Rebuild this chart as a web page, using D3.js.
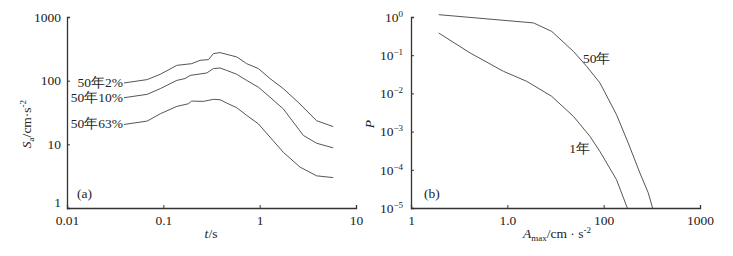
<!DOCTYPE html>
<html>
<head>
<meta charset="utf-8">
<script src="https://cdn.jsdelivr.net/npm/d3@7"></script>
<style>
  body { margin: 0; background: #fff; }
  .axis path, .axis line { stroke: #333; }
</style>
</head>
<body>
<div id="chart"></div>
<script>
// panel (a): response spectra
const tA = [0.039, 0.068, 0.093, 0.138, 0.197, 0.241, 0.294, 0.331, 0.388, 0.578, 0.733, 0.969, 1.28, 1.76, 2.62, 3.90, 5.80];
const sa2 = [92, 104, 126, 174, 185, 209, 214, 266, 276, 236, 185, 155, 108, 75, 43, 23.5, 19];
const tB = [0.039, 0.068, 0.093, 0.138, 0.168, 0.190, 0.282, 0.331, 0.388, 0.455, 0.578, 0.733, 0.969, 1.28, 1.76, 2.84, 3.90, 5.80];
const sa10 = [54, 61, 75, 101, 108, 121, 132, 155, 158, 145, 126, 101, 79, 55, 36, 13.8, 10.4, 8.8];
const tC = [0.039, 0.068, 0.093, 0.138, 0.182, 0.197, 0.261, 0.331, 0.388, 0.455, 0.578, 0.733, 0.969, 1.28, 1.76, 2.62, 3.90, 5.80];
const sa63 = [20.5, 23.2, 30.2, 39.4, 43.4, 47.8, 47.3, 50.9, 50.2, 44.5, 37.6, 28.5, 21.0, 13.0, 7.5, 4.4, 3.2, 3.0];
const seriesA = [
  { label: '50年2%', t: tA, v: sa2 },
  { label: '50年10%', t: tB, v: sa10 },
  { label: '50年63%', t: tC, v: sa63 }
];
const xTicksA = [0.01, 0.1, 1, 10];
const xTickLabelsA = ['0.01', '0.1', '1', '10'];
const yTicksA = [1, 10, 100, 1000];

// panel (b): exceedance probability
const amax50 = [1.94, 18.7, 28.9, 48.5, 66.6, 91.6, 136, 180, 238, 290, 322];
const p50 = [1.15, 0.70, 0.42, 0.126, 0.051, 0.0187, 0.00277, 5.0e-4, 8.2e-5, 2.5e-5, 1e-5];
const amax1 = [1.94, 4.12, 9.12, 15.9, 28.9, 48.5, 72.1, 91.6, 136, 176];
const p1 = [0.381, 0.114, 0.0378, 0.0207, 0.00838, 0.00251, 7.5e-4, 3.0e-4, 5.5e-5, 1e-5];
const seriesB = [
  { label: '50年', a: amax50, p: p50, at: [61, 0.063] },
  { label: '1年', a: amax1, p: p1, at: [44, 0.00028] }
];
const xTicksB = [1, 10, 100, 1000];
const xTickLabelsB = ['1', '1.0', '100', '1000'];
const yExpB = [0, -1, -2, -3, -4, -5];

const font = 'Liberation Serif';
const fs = 13.5;
const svg = d3.select('#chart').append('svg')
  .attr('width', 733)
  .attr('height', 256)
  .attr('font-family', font)
  .attr('font-size', fs);

const lineColor = '#555';
const textColor = '#222';

// ---------- panel (a)
const xa = d3.scaleLog().domain([0.01, 10]).range([67, 356]);
const ya = d3.scaleLog().domain([1, 1000]).range([208, 17]);

const axA = svg.append('g').attr('class', 'axis').attr('transform', 'translate(0,208)')
  .call(d3.axisBottom(xa).tickValues(xTicksA).tickFormat((d, i) => xTickLabelsA[i]).tickSize(-3).tickPadding(7));
const ayA = svg.append('g').attr('class', 'axis').attr('transform', 'translate(67,0)')
  .call(d3.axisLeft(ya).tickValues(yTicksA).tickFormat(d3.format('d')).tickSize(-3).tickPadding(6));
[axA, ayA].forEach(a => {
  a.attr('font-family', font).attr('font-size', fs);
  a.select('.domain').attr('stroke-width', 1.3);
  a.selectAll('text').attr('fill', textColor);
});
// bottom label "1" sits a little higher, clear of "0.01"
ayA.selectAll('.tick text').filter(d => d === 1).attr('dy', '-0.1em');

const lineA = d3.line().x(d => xa(d[0])).y(d => ya(d[1]));
seriesA.forEach(s => {
  const pts = s.t.map((t, i) => [t, s.v[i]]);
  svg.append('path')
    .attr('d', lineA(pts))
    .attr('fill', 'none')
    .attr('stroke', lineColor)
    .attr('stroke-width', 1);
  svg.append('text')
    .attr('x', xa(s.t[0]) - 1)
    .attr('y', ya(s.v[0]) + 4)
    .attr('text-anchor', 'end')
    .attr('fill', textColor)
    .text(s.label);
});

svg.append('text').attr('x', 77).attr('y', 198).attr('fill', textColor).text('(a)');
svg.append('text').attr('x', 211).attr('y', 238).attr('text-anchor', 'middle').attr('fill', textColor)
  .html('<tspan font-style="italic">t</tspan>/s');
svg.append('text')
  .attr('transform', 'translate(31,124) rotate(-90)')
  .attr('text-anchor', 'middle')
  .attr('fill', textColor)
  .html('<tspan font-style="italic">S</tspan><tspan font-size="9" dy="3">a</tspan><tspan dy="-3">/cm·s</tspan><tspan font-size="9" dy="-5">-2</tspan>');

// ---------- panel (b)
const xb = d3.scaleLog().domain([1, 1000]).range([411, 700]);
const yb = d3.scaleLog().domain([1e-5, 1]).range([208, 17]);

const axB = svg.append('g').attr('class', 'axis').attr('transform', 'translate(0,208)')
  .call(d3.axisBottom(xb).tickValues(xTicksB).tickFormat((d, i) => xTickLabelsB[i]).tickSize(-3).tickPadding(7));
const ayB = svg.append('g').attr('class', 'axis').attr('transform', 'translate(411,0)')
  .call(d3.axisLeft(yb).tickValues(yExpB.map(e => Math.pow(10, e))).tickFormat('').tickSize(-3));
[axB, ayB].forEach(a => {
  a.attr('font-family', font).attr('font-size', fs);
  a.select('.domain').attr('stroke-width', 1.3);
  a.selectAll('text').attr('fill', textColor);
});
ayB.selectAll('.tick').append('text')
  .attr('x', -8)
  .attr('dy', '0.32em')
  .attr('text-anchor', 'end')
  .attr('fill', textColor)
  .html((d, i) => `10<tspan font-size="9" dy="-5">${yExpB[i] === 0 ? '0' : '−' + (-yExpB[i])}</tspan>`);

const lineB = d3.line().x(d => xb(d[0])).y(d => yb(d[1]));
seriesB.forEach(s => {
  const pts = s.a.map((a, i) => [a, s.p[i]]);
  svg.append('path')
    .attr('d', lineB(pts))
    .attr('fill', 'none')
    .attr('stroke', lineColor)
    .attr('stroke-width', 1);
  svg.append('text')
    .attr('x', xb(s.at[0]))
    .attr('y', yb(s.at[1]))
    .attr('fill', textColor)
    .text(s.label);
});

svg.append('text').attr('x', 424).attr('y', 198).attr('fill', textColor).text('(b)');
svg.append('text').attr('x', 557).attr('y', 238).attr('text-anchor', 'middle').attr('fill', textColor)
  .html('<tspan font-style="italic">A</tspan><tspan font-size="9" dy="3">max</tspan><tspan dy="-3">/cm · s</tspan><tspan font-size="9" dy="-5">-2</tspan>');
svg.append('text')
  .attr('transform', 'translate(374,124) rotate(-90)')
  .attr('text-anchor', 'middle')
  .attr('font-style', 'italic')
  .attr('fill', textColor)
  .text('P');
</script>
</body>
</html>
